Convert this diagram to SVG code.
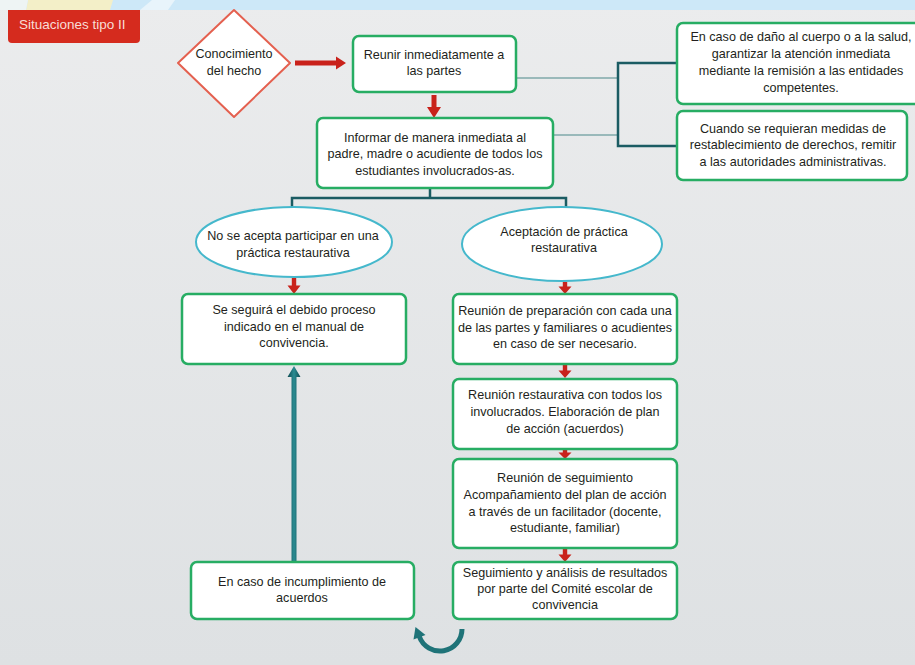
<svg xmlns="http://www.w3.org/2000/svg" width="915" height="665" viewBox="0 0 915 665">
  <defs>
    <linearGradient id="bg" x1="0" y1="0" x2="0" y2="1">
      <stop offset="0" stop-color="#ebeced"/>
      <stop offset="1" stop-color="#dee1e3"/>
    </linearGradient>
    <linearGradient id="teal" x1="0" y1="0" x2="1" y2="0">
      <stop offset="0" stop-color="#0f4a52"/>
      <stop offset="0.5" stop-color="#2b8c92"/>
      <stop offset="1" stop-color="#0f4a52"/>
    </linearGradient>
    <style>
      .t { font-family: "Liberation Sans", Arial, sans-serif; font-size: 12.6px; fill: #231f20; text-anchor: middle; }
      .box { fill: #ffffff; stroke: #27ad63; stroke-width: 2.5; }
      .ell { fill: #ffffff; stroke: #45b8cc; stroke-width: 2; }
      .dia { fill: #ffffff; stroke: #e4604f; stroke-width: 2; stroke-linejoin: round; }
      .red { fill: #c9221b; }
      .thin { stroke: #7fa8aa; stroke-width: 1.6; fill: none; }
      .dark { stroke: #1b5c63; stroke-width: 2.5; fill: none; }
    </style>
  </defs>

  <!-- background -->
  <rect x="0" y="0" width="915" height="665" fill="url(#bg)"/>
  <rect x="0" y="0" width="915" height="10" fill="#cde8f8"/>
  <polygon points="28,0 113,0 110,10 26,10" fill="#f3efc8"/>
  <polygon points="0,0 28,0 26,10 0,10" fill="#eef4f4"/>
  <polygon points="140,10 152,0 175,0 168,10" fill="#e8f4fb"/>

  <!-- title tab -->
  <g id="title">
    <path d="M8,10 H140 V39 Q140,43 136,43 H12 Q8,43 8,39 Z" fill="#d52b1e"/>
    <text x="19" y="29" style="font-family:'Liberation Sans', Arial, sans-serif; font-size:13.5px; fill:#f8ddd6;">Situaciones tipo II</text>
  </g>

  <!-- connectors -->
  <g id="connectors">
    <line class="thin" x1="516" y1="78" x2="618" y2="78"/>
    <line class="thin" x1="553" y1="135" x2="618" y2="135"/>
    <polyline class="dark" points="677,63 618,63 618,146 677,146"/>
    <line class="dark" x1="430" y1="188" x2="430" y2="198"/>
    <polyline class="dark" points="292,209 292,198 566,198 566,208"/>
    <!-- red arrows -->
    <polygon class="red" points="295,60.5 336,60.5 336,56.5 346,63 336,69.5 336,65.5 295,65.5"/>
    <polygon class="red" points="431.5,95 436.5,95 436.5,107 441,107 434,118 427,107 431.5,107"/>
    <polygon class="red" points="291.8,278 296.2,278 296.2,285.5 300.5,285.5 294,294 287.5,285.5 291.8,285.5"/>
    <polygon class="red" points="562.8,282 567.2,282 567.2,286.5 571.5,286.5 565,294 558.5,286.5 562.8,286.5"/>
    <polygon class="red" points="562.8,365 567.2,365 567.2,370.5 571.5,370.5 565,378 558.5,370.5 562.8,370.5"/>
    <polygon class="red" points="562.8,449 567.2,449 567.2,452.5 571.5,452.5 565,459 558.5,452.5 562.8,452.5"/>
    <polygon class="red" points="562.8,549 567.2,549 567.2,554.5 571.5,554.5 565,562 558.5,554.5 562.8,554.5"/>
    <!-- teal up arrow -->
    <polygon fill="url(#teal)" points="291.5,562 296.5,562 296.5,377 300.5,377 294,366 287.5,377 291.5,377"/>
    <!-- curved arrow -->
    <path d="M462,629 A22,22 0 0 1 419.3,636.5" fill="none" stroke="#1f7378" stroke-width="5"/>
    <polygon fill="#1f7378" points="415.5,627 425.5,635 413.5,639.5"/>
  </g>

  <!-- nodes -->
  <g id="n-conocimiento">
    <polygon class="dia" points="234,10 290,63 234,117 178,63"/>
    <text class="t" x="234" y="57.5">Conocimiento</text>
    <text class="t" x="234" y="74.5">del hecho</text>
  </g>

  <g id="n-reunir">
    <rect class="box" x="353" y="36" width="163" height="56" rx="6"/>
    <text class="t" x="434" y="58.5">Reunir inmediatamente a</text>
    <text class="t" x="434" y="74.5">las partes</text>
  </g>

  <g id="n-informar">
    <rect class="box" x="317" y="118" width="236" height="70" rx="6"/>
    <text class="t" x="435" y="141.5">Informar de manera inmediata al</text>
    <text class="t" x="435" y="158">padre, madre o acudiente de todos los</text>
    <text class="t" x="435" y="174.5">estudiantes involucrados-as.</text>
  </g>

  <g id="n-dano">
    <rect class="box" x="677" y="23" width="245" height="81" rx="6"/>
    <text class="t" x="801" y="40.5">En caso de daño al cuerpo o a la salud,</text>
    <text class="t" x="801" y="57.5">garantizar la atención inmediata</text>
    <text class="t" x="801" y="74.5">mediante la remisión a las entidades</text>
    <text class="t" x="801" y="91.5">competentes.</text>
  </g>

  <g id="n-restablecimiento">
    <rect class="box" x="677" y="111" width="230" height="69" rx="6"/>
    <text class="t" x="793" y="132.5">Cuando se requieran medidas de</text>
    <text class="t" x="793" y="148.5">restablecimiento de derechos, remitir</text>
    <text class="t" x="793" y="165.5">a las autoridades administrativas.</text>
  </g>

  <g id="n-no-acepta">
    <ellipse class="ell" cx="294" cy="242" rx="98" ry="35"/>
    <text class="t" x="293" y="239.5">No se acepta participar en una</text>
    <text class="t" x="293" y="256.5">práctica restaurativa</text>
  </g>

  <g id="n-aceptacion">
    <ellipse class="ell" cx="562" cy="244" rx="100" ry="37"/>
    <text class="t" x="564" y="235.5">Aceptación de práctica</text>
    <text class="t" x="564" y="251.5">restaurativa</text>
  </g>

  <g id="n-debido-proceso">
    <rect class="box" x="182" y="294" width="224" height="70" rx="6"/>
    <text class="t" x="294" y="313.5">Se seguirá el debido proceso</text>
    <text class="t" x="294" y="330.5">indicado en el manual de</text>
    <text class="t" x="294" y="346.5">convivencia.</text>
  </g>

  <g id="n-preparacion">
    <rect class="box" x="453" y="294" width="224" height="70" rx="6"/>
    <text class="t" x="565" y="314.5">Reunión de preparación con cada una</text>
    <text class="t" x="565" y="331.5">de las partes y familiares o acudientes</text>
    <text class="t" x="565" y="347.5">en caso de ser necesario.</text>
  </g>

  <g id="n-restaurativa">
    <rect class="box" x="453" y="379" width="224" height="70" rx="6"/>
    <text class="t" x="565" y="398.5">Reunión restaurativa con todos los</text>
    <text class="t" x="565" y="415.5">involucrados. Elaboración de plan</text>
    <text class="t" x="565" y="432.5">de acción (acuerdos)</text>
  </g>

  <g id="n-seguimiento">
    <rect class="box" x="453" y="459" width="224" height="89" rx="6"/>
    <text class="t" x="565" y="481.5">Reunión de seguimiento</text>
    <text class="t" x="565" y="498.5">Acompañamiento del plan de acción</text>
    <text class="t" x="565" y="515.5">a través de un facilitador (docente,</text>
    <text class="t" x="565" y="531.5">estudiante, familiar)</text>
  </g>

  <g id="n-analisis">
    <rect class="box" x="453" y="562" width="224" height="57" rx="6"/>
    <text class="t" x="565" y="576.5">Seguimiento y análisis de resultados</text>
    <text class="t" x="565" y="592.5">por parte del Comité escolar de</text>
    <text class="t" x="565" y="608.5">convivencia</text>
  </g>

  <g id="n-incumplimiento">
    <rect class="box" x="191" y="562" width="223" height="57" rx="6"/>
    <text class="t" x="302" y="585.5">En caso de incumplimiento de</text>
    <text class="t" x="302" y="601.5">acuerdos</text>
  </g>
</svg>
